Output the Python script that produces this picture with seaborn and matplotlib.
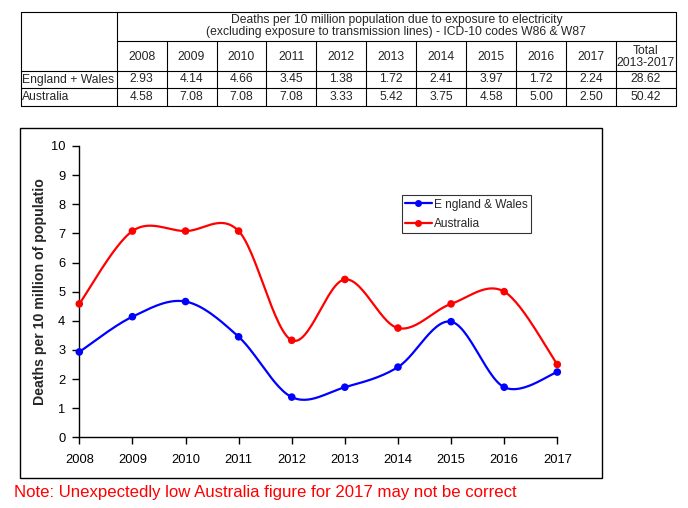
import matplotlib
matplotlib.use("Agg")
import matplotlib.pyplot as plt
from matplotlib.lines import Line2D
from matplotlib.patches import Rectangle
import seaborn as sns
import numpy as np
import pandas as pd

years = [2008, 2009, 2010, 2011, 2012, 2013, 2014, 2015, 2016, 2017]
england_wales = [2.93, 4.14, 4.66, 3.45, 1.38, 1.72, 2.41, 3.97, 1.72, 2.24]
australia = [4.58, 7.08, 7.08, 7.08, 3.33, 5.42, 3.75, 4.58, 5.00, 2.50]
totals = ["28.62", "50.42"]
row_labels = ["England + Wales", "Australia"]
table_title = ["Deaths per 10 million population due to exposure to electricity",
               "(excluding exposure to transmission lines) - ICD-10 codes W86 & W87"]
legend_labels = ["E ngland & Wales", "Australia"]
note = "Note: Unexpectedly low Australia figure for 2017 may not be correct"


def smooth(xs, ys, n=30):
    # Excel-style smoothed line (Catmull-Rom bezier segments)
    xs = np.asarray(xs, float)
    ys = np.asarray(ys, float)
    px, py = [], []
    m = len(xs)
    for i in range(m - 1):
        i0 = max(i - 1, 0)
        i3 = min(i + 2, m - 1)
        c1x = xs[i] + (xs[i + 1] - xs[i0]) / 6
        c1y = ys[i] + (ys[i + 1] - ys[i0]) / 6
        c2x = xs[i + 1] - (xs[i3] - xs[i]) / 6
        c2y = ys[i + 1] - (ys[i3] - ys[i]) / 6
        t = np.linspace(0, 1, n)
        a = (1 - t) ** 3
        b = 3 * (1 - t) ** 2 * t
        c = 3 * (1 - t) * t ** 2
        d = t ** 3
        px.extend(a * xs[i] + b * c1x + c * c2x + d * xs[i + 1])
        py.extend(a * ys[i] + b * c1y + c * c2y + d * ys[i + 1])
    return px, py


sns.set_style("white")
plt.rcParams["font.family"] = ["Liberation Sans", "DejaVu Sans"]

W, H = 688, 508
fig = plt.figure(figsize=(W / 100, H / 100), dpi=100)

# overlay in pixel coordinates for table and frame
ov = fig.add_axes([0, 0, 1, 1], zorder=0)
ov.set_xlim(0, W)
ov.set_ylim(H, 0)
ov.axis("off")

lw = 0.8
x_left, x_lab, x_tot, x_right = 20.5, 116.7, 616, 676
y_top, y_hdr, y_yr, y_ew, y_bot = 11.5, 41, 71, 88, 106
col_w = (x_tot - x_lab) / len(years)

ov.plot([x_left, x_right, x_right, x_left, x_left], [y_top, y_top, y_bot, y_bot, y_top], color="black", lw=lw)
ov.plot([x_lab, x_lab], [y_top, y_bot], color="black", lw=lw)
ov.plot([x_lab, x_right], [y_hdr, y_hdr], color="black", lw=lw)
ov.plot([x_left, x_right], [y_yr, y_yr], color="black", lw=lw)
ov.plot([x_left, x_right], [y_ew, y_ew], color="black", lw=lw)
for i in range(1, len(years) + 1):
    xv = x_lab + i * col_w
    ov.plot([xv, xv], [y_hdr, y_bot], color="black", lw=lw)

fs_t = 8.7
xc_hdr = (x_lab + x_right) / 2
ov.text(xc_hdr, 19.5, table_title[0], ha="center", va="center", fontsize=fs_t)
ov.text(xc_hdr, 32.5, table_title[1], ha="center", va="center", fontsize=fs_t)
for i, yr in enumerate(years):
    xc = x_lab + (i + 0.5) * col_w
    ov.text(xc, 56.5, str(yr), ha="center", va="center", fontsize=fs_t)
    ov.text(xc, 79.5, f"{england_wales[i]:.2f}", ha="center", va="center", fontsize=fs_t)
    ov.text(xc, 97.5, f"{australia[i]:.2f}", ha="center", va="center", fontsize=fs_t)
xc = (x_tot + x_right) / 2
ov.text(xc, 50.5, "Total", ha="center", va="center", fontsize=fs_t)
ov.text(xc, 63, "2013-2017", ha="center", va="center", fontsize=fs_t)
ov.text(xc, 79.5, totals[0], ha="center", va="center", fontsize=fs_t)
ov.text(xc, 97.5, totals[1], ha="center", va="center", fontsize=fs_t)
ov.text(x_left + 1.5, 79.5, row_labels[0], ha="left", va="center", fontsize=fs_t)
ov.text(x_left + 1.5, 97.5, row_labels[1], ha="left", va="center", fontsize=fs_t)

# chart frame
ov.add_patch(Rectangle((19.5, 127.5), 582.5, 350.5, fill=False, edgecolor="black", lw=1.0))

# note
ov.text(14, 492, note, ha="left", va="center", fontsize=12.1, color="#ff0000")

# chart axes
ax = fig.add_axes([79.3 / W, 1 - 437.3 / H, (557.3 - 79.3) / W, (437.3 - 146) / H], zorder=2)
ax.patch.set_alpha(0)

df = pd.DataFrame({"year": years + years,
                   "value": england_wales + australia,
                   "series": [legend_labels[0]] * len(years) + [legend_labels[1]] * len(years)})
colors = {legend_labels[0]: "#0000ff", legend_labels[1]: "#ff0000"}

for name, vals in [(legend_labels[0], england_wales), (legend_labels[1], australia)]:
    sx, sy = smooth(years, vals)
    ax.plot(sx, sy, color=colors[name], lw=1.6, clip_on=False, zorder=3)
sns.scatterplot(data=df, x="year", y="value", hue="series", palette=colors, s=30,
                edgecolor="none", legend=False, ax=ax, clip_on=False, zorder=4)

ax.set_xlim(2008, 2017)
ax.set_ylim(0, 10)
ax.set_xticks(years)
ax.set_yticks(range(0, 11))
ax.tick_params(axis="both", direction="out", length=5, width=1, labelsize=9.3, colors="black",
               left=True, bottom=True)
ax.tick_params(axis="x", pad=7)
ax.tick_params(axis="y", pad=5)
for s in ["top", "right"]:
    ax.spines[s].set_visible(False)
for s in ["left", "bottom"]:
    ax.spines[s].set_color("black")
    ax.spines[s].set_linewidth(1)
ax.set_xlabel("")
ax.set_ylabel("Deaths per 10 million of populatio", fontsize=10.2, fontweight="bold", labelpad=3)

handles = [Line2D([0], [0], color=colors[n], lw=1.6, marker="o", markersize=4) for n in legend_labels]
leg = ax.legend(handles, legend_labels, loc="upper left", bbox_to_anchor=((401.7 - 79.3) / 478, (437.3 - 195) / 291.3),
                fontsize=8.6, frameon=True, fancybox=False, edgecolor="black", borderpad=0.3,
                handlelength=2.2, handletextpad=0.2, labelspacing=0.6, borderaxespad=0)
leg.get_frame().set_linewidth(0.8)

fig.savefig("out.png", dpi=100)
